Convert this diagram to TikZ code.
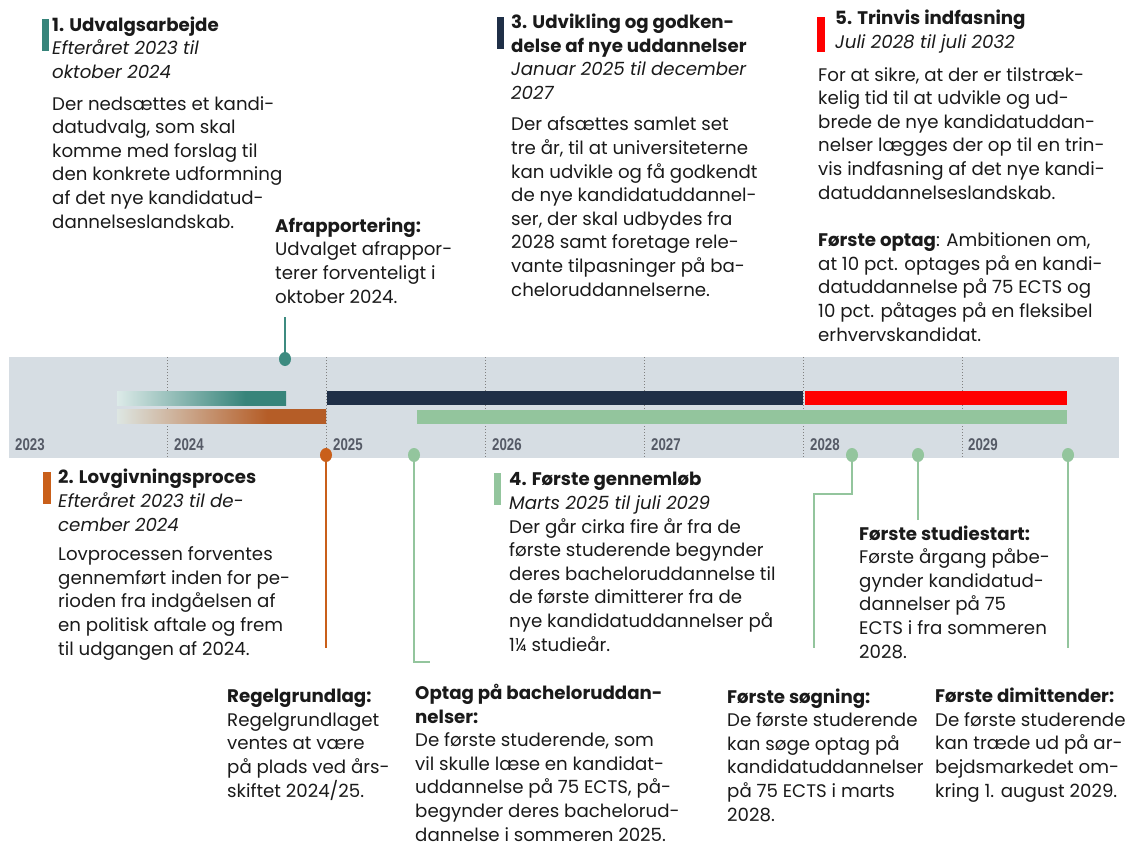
\documentclass[tikz,border=0pt]{standalone}
\usepackage{fontspec}
\setmainfont{Poppins}
\newfontfamily\yearfont[FakeStretch=0.78]{Liberation Sans}
\usetikzlibrary{shapes.geometric}

\definecolor{ink}{HTML}{1A1A1A}
\definecolor{bandgray}{HTML}{D6DDE3}
\definecolor{yeargray}{HTML}{555A66}
\definecolor{tealc}{HTML}{37847A}
\definecolor{tealpin}{HTML}{3D8B80}
\definecolor{orangec}{HTML}{B55D27}
\definecolor{orangepin}{HTML}{C95F1A}
\definecolor{navyc}{HTML}{1F2F47}
\definecolor{redc}{HTML}{FF0000}
\definecolor{greenc}{HTML}{93C59D}
\definecolor{fadec}{HTML}{DCEAE8}
\definecolor{fadeo}{HTML}{DDE6E2}

\pgfdeclarehorizontalshading{tealfade}{100bp}{color(0bp)=(fadec); color(25bp)=(fadec); color(63bp)=(tealc); color(100bp)=(tealc)}
\pgfdeclarehorizontalshading{orangefade}{100bp}{color(0bp)=(fadeo); color(25bp)=(fadeo); color(61bp)=(orangec); color(100bp)=(orangec)}

\begin{document}
\begin{tikzpicture}[x=1pt,y=-1pt,
    txt/.style={anchor=base west,inner sep=0,align=left,text=ink,
      font=\fontsize{18.2}{23.6}\selectfont},
    yr/.style={anchor=base west,inner sep=0,text=yeargray,
      font=\yearfont\bfseries\fontsize{17}{17}\selectfont},
    knob/.style={ellipse,fill=#1,minimum width=12,minimum height=14,inner sep=0},
    stem/.style={draw=#1,line width=2},
    tick/.style={dotted,gray,line width=1}]
  \useasboundingbox (0,0) rectangle (1127,846);

  % timeline band
  \fill[bandgray] (9,357) rectangle (1119,458);
  \foreach \x in {167,326,485,644,803,962}
    \draw[tick] (\x,357) -- (\x,458);

  % bars
  \shade[shading=tealfade] (117,391) rectangle (286,405);
  \shade[shading=orangefade] (117,409) rectangle (326,423);
  \fill[navyc] (327,391) rectangle (803,405);
  \fill[redc] (805,391) rectangle (1067,405);
  \fill[greenc] (417,410) rectangle (1067,424);

  % years
  \node[yr] (y23) at (15,450) {2023};
  \node[yr] (y24) at (174,450) {2024};
  \node[yr] (y25) at (333,450) {2025};
  \node[yr] (y26) at (492,450) {2026};
  \node[yr] (y27) at (651,450) {2027};
  \node[yr] (y28) at (810,450) {2028};
  \node[yr] (y29) at (968,450) {2029};

  % pins and stems
  \node[knob=tealpin] (pAf) at (285,359) {};
  \node[knob=orangepin] (pRg) at (326,455) {};
  \node[knob=greenc] (pOb) at (414,455) {};
  \node[knob=greenc] (pFs) at (852,455) {};
  \node[knob=greenc] (pSs) at (918,455) {};
  \node[knob=greenc] (pFd) at (1068,455) {};

  \coordinate (afTop) at (285,317);
  \coordinate (rgEnd) at (326,648);
  \coordinate (obBend) at (414,662);
  \coordinate (obEnd) at (430,662);
  \coordinate (fsBend) at (852,494);
  \coordinate (fsBend2) at (814,494);
  \coordinate (fsEnd) at (814,648);
  \coordinate (ssEnd) at (918,520);
  \coordinate (fdEnd) at (1068,648);

  \draw[stem=tealpin] (afTop) -- (pAf);
  \draw[stem=orangepin] (pRg) -- (rgEnd);
  \draw[stem=greenc] (pOb) -- (obBend) -- (obEnd);
  \draw[stem=greenc] (pFs) -- (fsBend) -- (fsBend2) -- (fsEnd);
  \draw[stem=greenc] (pSs) -- (ssEnd);
  \draw[stem=greenc] (pFd) -- (fdEnd);

  % phase markers
  \fill[tealc] (42,19) rectangle (49,51);
  \fill[navyc] (497,17) rectangle (504,49);
  \fill[redc] (817,17) rectangle (825,52);
  \fill[orangepin] (43,472) rectangle (51,504);
  \fill[greenc] (494,473) rectangle (501,505);

  % texts (placed at their last baseline)
  \node[txt] (b1) at (52,228) {\textbf{1. Udvalgsarbejde}\\
    \textit{Efteråret 2023 til}\\
    \textit{oktober 2024}\\[8pt]
    Der nedsættes et kandi-\\
    datudvalg, som skal\\
    komme med forslag til\\
    den konkrete udformning\\
    af det nye kandidatud-\\
    dannelseslandskab.};
  \node[txt] (af) at (275,303) {\textbf{Afrapportering:}\\
    Udvalget afrappor-\\
    terer forventeligt i\\
    oktober 2024.};
  \node[txt] (b3) at (511,296) {\textbf{3. Udvikling og godken-}\\
    \textbf{delse af nye uddannelser}\\
    \textit{Januar 2025 til december}\\
    \textit{2027}\\[8pt]
    Der afsættes samlet set\\
    tre år, til at universiteterne\\
    kan udvikle og få godkendt\\
    de nye kandidatuddannel-\\
    ser, der skal udbydes fra\\
    2028 samt foretage rele-\\
    vante tilpasninger på ba-\\
    cheloruddannelserne.};
  \node[txt] (b5head) at (835,48) {\textbf{5. Trinvis indfasning}\\
    \textit{Juli 2028 til juli 2032}};
  \node[txt] (b5) at (818,341) {For at sikre, at der er tilstræk-\\
    kelig tid til at udvikle og ud-\\
    brede de nye kandidatuddan-\\
    nelser lægges der op til en trin-\\
    vis indfasning af det nye kandi-\\
    datuddannelseslandskab.\\[24pt]
    \textbf{Første optag}: Ambitionen om,\\
    at 10 pct. optages på en kandi-\\
    datuddannelse på 75 ECTS og\\
    10 pct. påtages på en fleksibel\\
    erhvervskandidat.};
  \node[txt] (b2) at (58,655) {\textbf{2. Lovgivningsproces}\\
    \textit{Efteråret 2023 til de-}\\
    \textit{cember 2024}\\[6pt]
    Lovprocessen forventes\\
    gennemført inden for pe-\\
    rioden fra indgåelsen af\\
    en politisk aftale og frem\\
    til udgangen af 2024.};
  \node[txt] (b4) at (509,651) {\textbf{4. Første gennemløb}\\
    \textit{Marts 2025 til juli 2029}\\
    Der går cirka fire år fra de\\
    første studerende begynder\\
    deres bacheloruddannelse til\\
    de første dimitterer fra de\\
    nye kandidatuddannelser på\\
    1¼ studieår.};
  \node[txt] (ss) at (859,658) {\textbf{Første studiestart:}\\
    Første årgang påbe-\\
    gynder kandidatud-\\
    dannelser på 75\\
    ECTS i fra sommeren\\
    2028.};
  \node[txt] (rg) at (227,797) {\textbf{Regelgrundlag:}\\
    Regelgrundlaget\\
    ventes at være\\
    på plads ved års-\\
    skiftet 2024/25.};
  \node[txt] (ob) at (415,841) {\textbf{Optag på bacheloruddan-}\\
    \textbf{nelser:}\\
    De første studerende, som\\
    vil skulle læse en kandidat-\\
    uddannelse på 75 ECTS, på-\\
    begynder deres bachelorud-\\
    dannelse i sommeren 2025.};
  \node[txt] (fs) at (727,821) {\textbf{Første søgning:}\\
    De første studerende\\
    kan søge optag på\\
    kandidatuddannelser\\
    på 75 ECTS i marts\\
    2028.};
  \node[txt] (fd) at (935,797) {\textbf{Første dimittender:}\\
    De første studerende\\
    kan træde ud på ar-\\
    bejdsmarkedet om-\\
    kring 1. august 2029.};
\end{tikzpicture}
\end{document}
